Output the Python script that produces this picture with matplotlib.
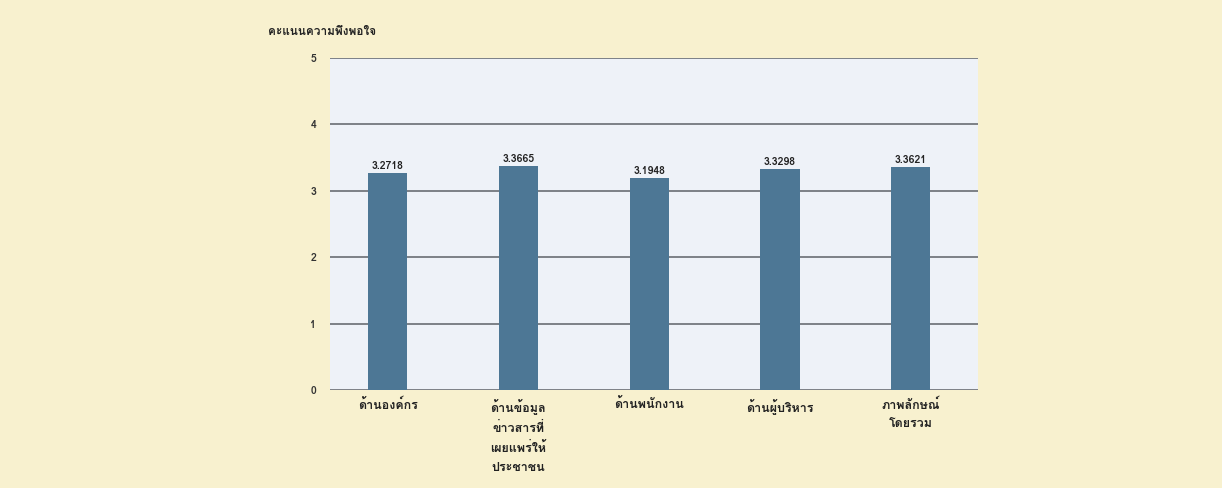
import matplotlib
matplotlib.use("Agg")
import matplotlib.pyplot as plt
from matplotlib import font_manager
from fontTools.ttLib import TTFont

# ค่าคะแนนความพึงพอใจแต่ละด้าน
categories = ["ด้านองค์กร", "ด้านข้อมูล\nข่าวสารที่\nเผยแพร่ให้\nประชาชน", "ด้านพนักงาน",
              "ด้านผู้บริหาร", "ภาพลักษณ์\nโดยรวม"]
scores = [3.2718, 3.3665, 3.1948, 3.3298, 3.3621]
score_labels = ["3.2718", "3.3665", "3.1948", "3.3298", "3.3621"]
y_ticks = [0, 1, 2, 3, 4, 5]
y_title = "คะแนนความพึงพอใจ"


def thai_family():
    # หาฟอนต์ที่มีตัวอักษรไทย (U+0E01) ถ้าไม่มีก็ใช้ DejaVu Sans
    for f in font_manager.fontManager.ttflist:
        try:
            cmap = TTFont(f.fname, fontNumber=0, lazy=True).getBestCmap()
            if cmap and 0x0E01 in cmap:
                return f.name
        except Exception:
            continue
    return None


fam = thai_family()
plt.rcParams['font.family'] = [fam, 'DejaVu Sans'] if fam else ['DejaVu Sans']

paper = "#f8f1cf"
fig = plt.figure(figsize=(12.22, 4.88), dpi=100, facecolor=paper)
ax = fig.add_axes([0.270, 0.201, 0.530, 0.680])
ax.set_facecolor("#eef2f8")

x = list(range(len(scores)))
bars = ax.bar(x, scores, width=0.30, color="#4d7795", zorder=3)

for xi, v, lab in zip(x, scores, score_labels):
    ax.text(xi, v + 0.03, lab, ha="center", va="bottom", fontsize=7.5,
            fontweight="bold", color="#222222", zorder=4)

ax.set_ylim(0, 5)
ax.set_xlim(-0.44, 4.51)
ax.set_yticks(y_ticks)
ax.set_yticklabels([str(t) for t in y_ticks], fontsize=7.5, fontweight="bold", color="#333333")
ax.set_xticks(x)
ax.set_xticklabels(categories, fontsize=9, fontweight="bold", color="#222222",
                   linespacing=1.75, va="top")
ax.tick_params(axis="x", length=0, pad=6)
ax.tick_params(axis="y", length=0, pad=10)

ax.yaxis.grid(True, color="#7c8086", linewidth=1.4, zorder=1)
ax.set_axisbelow(True)
for s in ax.spines.values():
    s.set_visible(False)

fig.text(268 / 1222, 1 - 32 / 488, y_title, fontsize=8.5, fontweight="bold",
         color="#222222", ha="left", va="center")

fig.savefig("out.png", dpi=100, facecolor=paper)
